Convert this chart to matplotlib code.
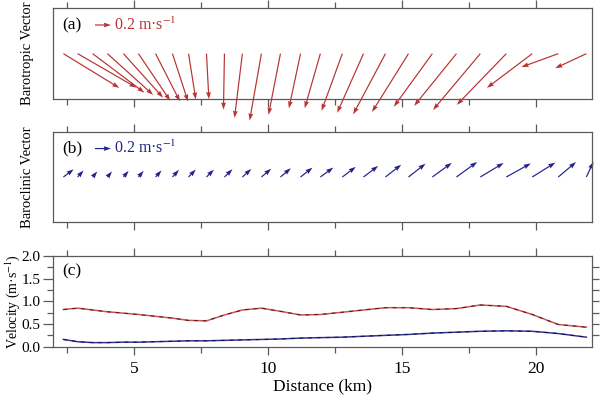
import numpy as np
import matplotlib.pyplot as plt

plt.rcParams['font.family'] = 'serif'
plt.rcParams['font.serif'] = ['Liberation Serif', 'DejaVu Serif']
plt.rcParams['mathtext.fontset'] = 'stix'

# ---------------- DATA ----------------
distance = [2.37, 2.90, 3.46, 4.01, 4.61, 5.17, 5.81, 6.44, 7.04, 7.71, 8.38, 9.05, 9.76, 10.47,
            11.22, 11.96, 12.78, 13.57, 14.39, 15.25, 16.14, 17.04, 17.93, 18.90, 19.87, 20.84, 21.89]

# barotropic: speed (m/s) and direction (deg, counter-clockwise from east)
baro_speed = [0.82, 0.85, 0.81, 0.77, 0.74, 0.71, 0.67, 0.63, 0.58, 0.57, 0.70, 0.81, 0.85, 0.78,
              0.70, 0.71, 0.76, 0.81, 0.86, 0.86, 0.82, 0.84, 0.92, 0.89, 0.71, 0.49, 0.43]
baro_dir = [-31.5, -30, -37, -42, -48, -56, -63, -72, -81, -87, -91, -97, -100, -101,
            -102, -106, -110, -114, -118, -122, -126, -129, -130, -134, -143, -160, -155]

# baroclinic
bc_speed = [0.16, 0.11, 0.09, 0.09, 0.10, 0.10, 0.11, 0.12, 0.13, 0.13, 0.14, 0.15, 0.16, 0.17,
            0.19, 0.20, 0.21, 0.23, 0.25, 0.27, 0.30, 0.32, 0.34, 0.35, 0.34, 0.29, 0.21]
bc_dir = [37, 48, 50, 50, 50, 50, 48, 48, 46, 45, 44, 42, 40, 40,
          38, 36, 37, 37, 38, 38, 36, 36, 31, 29, 32, 40, 65]

red = '#b83434'
blue = '#23238a'
spine_col = '#5a5a5a'

x = np.array(distance)
bu = np.array(baro_speed) * np.cos(np.radians(baro_dir))
bv = np.array(baro_speed) * np.sin(np.radians(baro_dir))
cu = np.array(bc_speed) * np.cos(np.radians(bc_dir))
cv = np.array(bc_speed) * np.sin(np.radians(bc_dir))

fig = plt.figure(figsize=(6, 3.96), dpi=100)
ax1 = fig.add_axes([0.0883, 0.750, 0.8984, 0.229])
ax2 = fig.add_axes([0.0883, 0.4394, 0.8984, 0.2273])
ax3 = fig.add_axes([0.0883, 0.1245, 0.8984, 0.229])


def style(ax):
    ax.set_xlim(1.98, 22.1)
    ax.set_xticks([5, 10, 15, 20])
    ax.set_xticks([2.5, 7.5, 12.5, 17.5], minor=True)
    ax.tick_params(axis='x', which='both', direction='out', top=True, bottom=True,
                   color=spine_col, width=0.9)
    ax.tick_params(axis='x', which='major', length=6)
    ax.tick_params(axis='x', which='minor', length=4)
    for s in ax.spines.values():
        s.set_color(spine_col)
        s.set_linewidth(0.9)


qkw = dict(angles='uv', scale_units='inches', scale=1.25, units='dots',
           width=1.2, headwidth=4, headlength=6, headaxislength=5.5, clip_on=False)

# ---------------- (a) ----------------
style(ax1)
ax1.set_ylim(-1, 1)
ax1.set_yticks([])
ax1.tick_params(axis='x', labelbottom=False)
q1 = ax1.quiver(x, np.zeros_like(x), bu, bv, color=red, **qkw)
ax1.text(0.018, 0.816, '(a)', transform=ax1.transAxes, fontsize=12.5, va='center')
ax1.quiverkey(q1, 0.1076, 0.816, 0.2, '0.2 m·s$^{-1}$', labelpos='E', coordinates='axes',
              labelcolor=red, labelsep=0.03, fontproperties={'size': 11.5})
ax1.set_ylabel('Barotropic Vector', fontsize=10.5)
ax1.yaxis.set_label_coords(-0.036, 0.5)

# ---------------- (b) ----------------
style(ax2)
ax2.set_ylim(-1, 1)
ax2.set_yticks([])
ax2.tick_params(axis='x', labelbottom=False)
q2 = ax2.quiver(x, np.zeros_like(x), cu, cv, color=blue, **qkw)
ax2.text(0.018, 0.816, '(b)', transform=ax2.transAxes, fontsize=12.5, va='center')
ax2.quiverkey(q2, 0.1076, 0.816, 0.2, '0.2 m·s$^{-1}$', labelpos='E', coordinates='axes',
              labelcolor=blue, labelsep=0.03, fontproperties={'size': 11.5})
ax2.set_ylabel('Baroclinic Vector', fontsize=10.5)
ax2.yaxis.set_label_coords(-0.036, 0.5)

# ---------------- (c) ----------------
style(ax3)
ax3.set_ylim(0, 2.0)
ax3.set_yticks([0, 0.5, 1.0, 1.5, 2.0])
ax3.set_yticklabels(['0.0', '0.5', '1.0', '1.5', '2.0'])
ax3.set_yticks(np.arange(0.25, 2.0, 0.5), minor=True)
ax3.tick_params(axis='y', which='both', direction='out', color=spine_col, width=0.9, pad=2)
ax3.tick_params(axis='y', which='major', length=7, labelsize=11)
ax3.tick_params(axis='y', which='minor', length=4)
ax3.tick_params(axis='x', which='major', labelsize=12.5, pad=4)
sec = ax3.secondary_yaxis('right')
sec.set_yticks(np.arange(0.25, 2.0, 0.25))
sec.tick_params(length=5, direction='out', color=spine_col, width=0.9, labelright=False)
sec.spines['right'].set_visible(False)

ax3.plot(x, baro_speed, color='#cc5555', lw=1.1)
ax3.plot(x, baro_speed, color='#4a1515', lw=0.7, ls=(0, (4, 5)))
ax3.plot(x, bc_speed, color='#3535a0', lw=1.1)
ax3.plot(x, bc_speed, color='#101030', lw=0.7, ls=(0, (4, 5)))
ax3.text(0.018, 0.827, '(c)', transform=ax3.transAxes, fontsize=12.5, va='center')
ax3.set_ylabel('Velocity (m·s$^{-1}$)', fontsize=10)
ax3.yaxis.set_label_coords(-0.058, 0.5)
ax3.set_xlabel('Distance (km)', fontsize=12.5, labelpad=1)

fig.savefig('out.png', dpi=100)
